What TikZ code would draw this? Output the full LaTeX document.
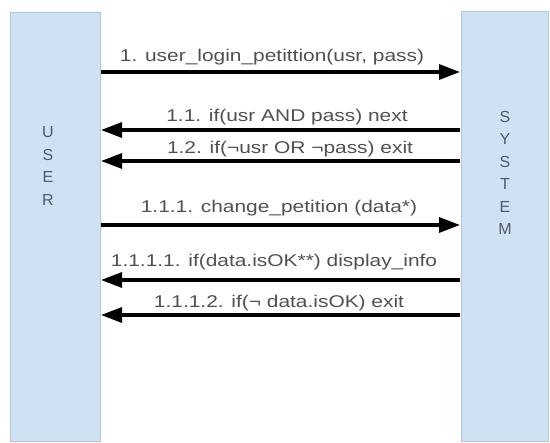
\documentclass[tikz,border=0pt]{standalone}
\usepackage{fontspec}
\setmainfont{Liberation Sans}
\newfontfamily\msgfont[FakeStretch=1.23]{Liberation Sans}
\usetikzlibrary{arrows.meta}
\definecolor{lanefill}{HTML}{CFE2F3}
\definecolor{lanedraw}{HTML}{B4C6D6}
\definecolor{lanetext}{HTML}{4F5B68}
\definecolor{msgtext}{HTML}{505050}
\tikzset{
  lane/.style={draw=lanedraw, fill=lanefill, line width=0.8pt},
  lanelabel/.style={text=lanetext, align=center, font=\fontsize{16}{22.5}\selectfont},
  msg/.style={line width=3.2pt, -{Triangle[length=21pt,width=15pt]}},
  msglabel/.style={text=msgtext, font=\msgfont\fontsize{17}{20}\selectfont, inner sep=0pt, anchor=base},
}
\begin{document}
\begin{tikzpicture}[x=1pt,y=-1pt]
  \useasboundingbox (0,0) rectangle (550,443);
  % swim lanes
  \draw[lane] (10,12) rectangle (100,441);
  \draw[lane] (461,11) rectangle (548,441);
  \coordinate (user) at (101,0);
  \coordinate (system) at (460,0);
  \node[lanelabel] (userlbl) at (48,166) {U\\S\\E\\R};
  \node[lanelabel] (systemlbl) at (505,173) {S\\Y\\S\\T\\E\\M};
  % messages
  \draw[msg] (user |- 0,72) coordinate (m1a) -- (system |- 0,72) coordinate (m1b);
  \node[msglabel] (l1) at (272,62) {1. user\_login\_petittion(usr, pass)};
  \draw[msg] (system |- 0,130) coordinate (m2a) -- (user |- 0,130) coordinate (m2b);
  \node[msglabel] (l2) at (287,122) {1.1. if(usr AND pass) next};
  \draw[msg] (system |- 0,161) coordinate (m3a) -- (user |- 0,161) coordinate (m3b);
  \node[msglabel] (l3) at (290,154) {1.2. if(¬usr OR ¬pass) exit};
  \draw[msg] (user |- 0,225) coordinate (m4a) -- (system |- 0,225) coordinate (m4b);
  \node[msglabel] (l4) at (279,213) {1.1.1. change\_petition (data*)};
  \draw[msg] (system |- 0,280) coordinate (m5a) -- (user |- 0,280) coordinate (m5b);
  \node[msglabel] (l5) at (274,267) {1.1.1.1. if(data.isOK**) display\_info};
  \draw[msg] (system |- 0,315) coordinate (m6a) -- (user |- 0,315) coordinate (m6b);
  \node[msglabel] (l6) at (279,308) {1.1.1.2. if(¬ data.isOK) exit};
\end{tikzpicture}
\end{document}
